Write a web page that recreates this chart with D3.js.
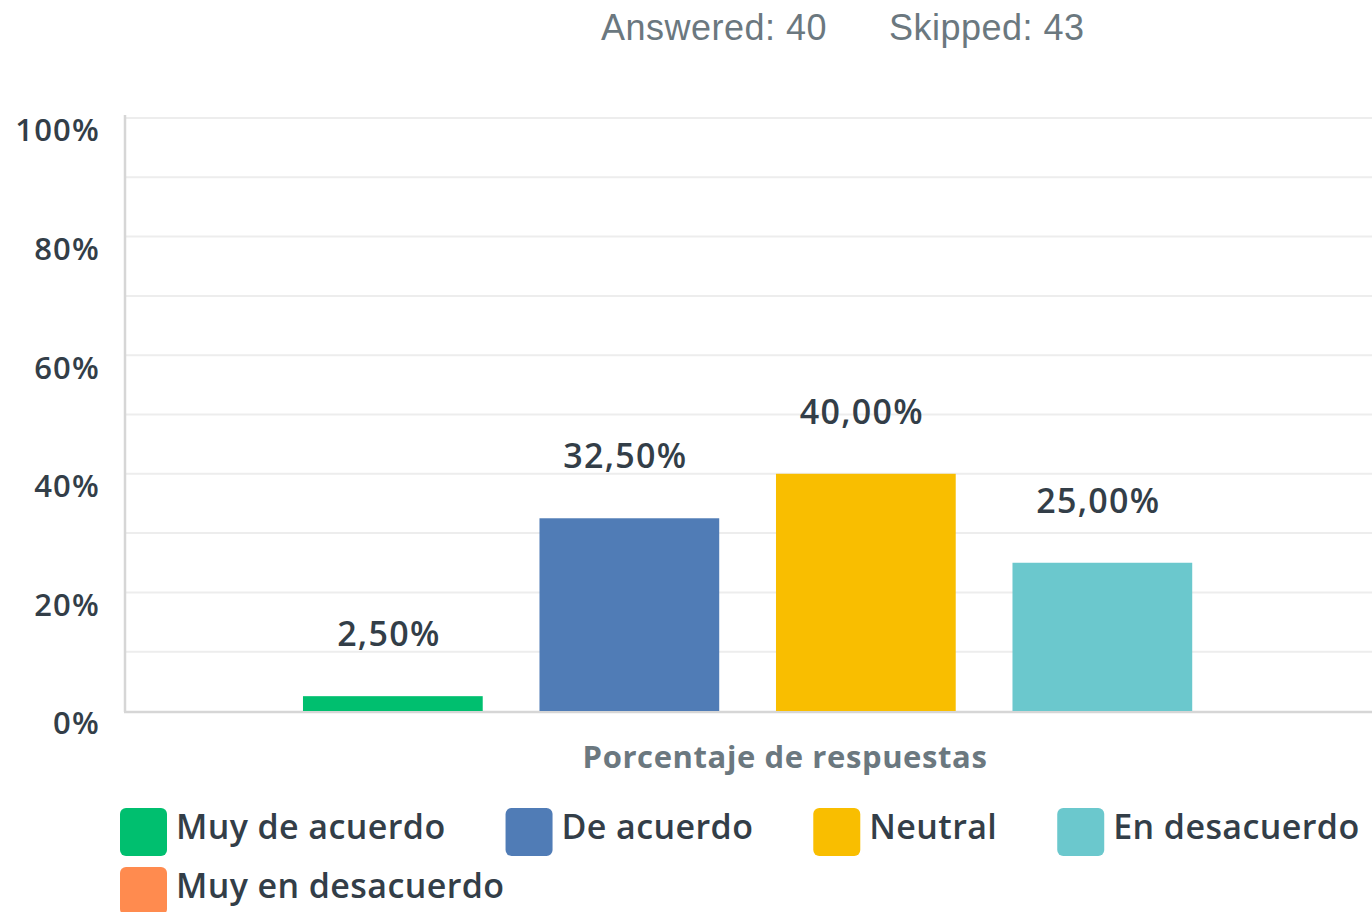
<!DOCTYPE html>
<html><head><meta charset="utf-8">
<script src="https://cdn.jsdelivr.net/npm/d3@7"></script>
<style>body{margin:0;background:#fff;overflow:hidden}svg{display:block}</style>
</head><body>
<svg id="c" width="1372" height="912"></svg>
<script>
const categories = ["Muy de acuerdo","De acuerdo","Neutral","En desacuerdo","Muy en desacuerdo"];
const values = [2.5, 32.5, 40.0, 25.0, 0.0];
const colors = ["#00bf6f","#507cb6","#f9be00","#6bc8cd","#ff8b4f"];
const yTicks = [0,20,40,60,80,100];
const gridTicks = [10,20,30,40,50,60,70,80,90,100];
const headerText = ["Answered: 40","Skipped: 43"];
const axisTitle = "Porcentaje de respuestas";

const svg = d3.select("#c");
const font = "'Open Sans', sans-serif";
const dark = "#333e48", gray = "#6b787f";

const y = d3.scaleLinear().domain([0,100]).range([711,118]);
const x = d3.scaleBand().domain(categories).range([274.6, 274.6+5*236.5]).paddingInner(0.24).paddingOuter(0.12);

// header
svg.append("text").attr("x",601).attr("y",40).attr("font-family","'Liberation Sans', Arial, sans-serif")
  .attr("font-size",36).attr("letter-spacing",0.5).attr("fill","#6b787f").text(headerText[0]);
svg.append("text").attr("x",889).attr("y",40).attr("font-family","'Liberation Sans', Arial, sans-serif")
  .attr("font-size",36).attr("letter-spacing",0.5).attr("fill","#6b787f").text(headerText[1]);

// grid
svg.append("g").selectAll("line").data(gridTicks).join("line")
  .attr("x1",125).attr("x2",1372).attr("y1",d=>y(d)).attr("y2",d=>y(d))
  .attr("stroke","#ededed").attr("stroke-width",2);

// y axis
const yAxis = d3.axisLeft(y).tickValues(yTicks).tickSize(0).tickFormat(d=>d+"%");
const ga = svg.append("g").attr("transform","translate(100,13)").call(yAxis);
ga.select(".domain").remove();
ga.selectAll("text").attr("font-family",font).attr("font-weight",600).attr("font-size",31)
  .attr("letter-spacing",1.2).attr("fill",dark).attr("x",0);

svg.append("line").attr("x1",125).attr("x2",125).attr("y1",115).attr("y2",712).attr("stroke","#d6d6d6").attr("stroke-width",2.5);
svg.append("line").attr("x1",124).attr("x2",1372).attr("y1",y(0)+1).attr("y2",y(0)+1).attr("stroke","#d6d6d6").attr("stroke-width",2.5);

// bars
svg.append("g").selectAll("rect").data(values).join("rect")
  .attr("x",(d,i)=>x(categories[i])).attr("width",x.bandwidth())
  .attr("y",d=>y(d)).attr("height",d=>y(0)-y(d)).attr("fill",(d,i)=>colors[i]);

svg.append("g").selectAll("text").data(values.map((v,i)=>({v,c:categories[i]})).filter(d=>d.v>0)).join("text")
  .attr("x",d=>x(d.c)+x.bandwidth()/2-4)
  .attr("y",d=>y(d.v)-50).attr("text-anchor","middle")
  .attr("font-family",font).attr("font-weight",600).attr("font-size",34).attr("letter-spacing",1.3).attr("fill",dark)
  .text(d=>d.v.toFixed(2).replace(".",",")+"%");

// axis title
svg.append("text").attr("x",785).attr("y",768).attr("text-anchor","middle")
  .attr("font-family",font).attr("font-weight",700).attr("font-size",31).attr("letter-spacing",0.6).attr("fill",gray).text(axisTitle);

// legend
const lg = svg.append("g");
let lx = 120, ly = 808;
categories.forEach((c,i)=>{
  const g = lg.append("g");
  g.append("rect").attr("width",47).attr("height",48).attr("rx",6).attr("fill",colors[i]);
  const t = g.append("text").attr("x",56).attr("y",31).attr("font-family",font).attr("font-weight",600)
    .attr("font-size",34).attr("letter-spacing",0.4).attr("fill",dark).text(c);
  const w = 56 + t.node().getComputedTextLength();
  if (lx + w > 1385) { lx = 120; ly += 59; }
  g.attr("transform",`translate(${lx},${ly})`);
  lx += w + 60;
});
</script>
</body></html>
